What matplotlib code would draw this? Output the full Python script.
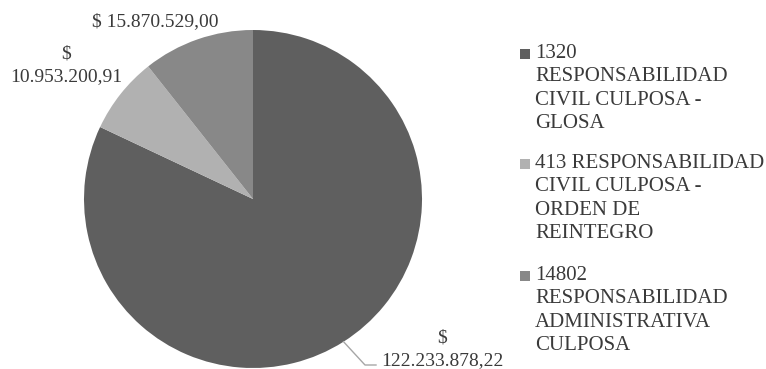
"""Pie chart of amounts by type of liability process."""
import matplotlib.pyplot as plt
import numpy as np
from matplotlib.patches import Rectangle

categories = [
    "1320\nRESPONSABILIDAD\nCIVIL CULPOSA -\nGLOSA",
    "413 RESPONSABILIDAD\nCIVIL CULPOSA -\nORDEN DE\nREINTEGRO",
    "14802\nRESPONSABILIDAD\nADMINISTRATIVA\nCULPOSA",
]
amounts = [122233878.22, 10953200.91, 15870529.00]
value_labels = ["$\n122.233.878,22", "$\n10.953.200,91", "$ 15.870.529,00"]
colors = ["#5f5f5f", "#b1b1b1", "#888888"]

W, H = 766, 369
TEXT_COLOR = "#3a3a3a"
LINE_PX = 23.3  # distance between text lines, pixels

fig = plt.figure(figsize=(W / 100, H / 100), dpi=100)

# pie centre and radius in pixels
cx, cy, r = 253, 199, 169
ax = fig.add_axes([(cx - r) / W, (H - cy - r) / H, 2 * r / W, 2 * r / H])
wedges, _ = ax.pie(
    amounts,
    colors=colors,
    startangle=90,
    counterclock=False,
    radius=1.0,
    wedgeprops=dict(linewidth=0),
)
ax.set_xlim(-1, 1)
ax.set_ylim(-1, 1)
ax.set_aspect("equal")
ax.axis("off")


def px(x, y):
    """Pixel position (top-left origin) to figure fraction."""
    return x / W, 1 - y / H


def stacked_text(x, first_baseline, text, ha, size):
    """Draw text one line at a time from the first line's baseline."""
    for i, line in enumerate(text.split("\n")):
        fig.text(*px(x, first_baseline + i * LINE_PX), line, ha=ha,
                 va="baseline", family="Liberation Serif", size=size,
                 color=TEXT_COLOR)


# value labels, baseline of first line in pixels
label_pos = [(442, 342), (66, 58), (155, 26)]
for text, (lx, ly) in zip(value_labels, label_pos):
    stacked_text(lx, ly, text, "center", 14)

# leader line for the large slice
w = wedges[0]
mid = np.deg2rad((w.theta1 + w.theta2) / 2)
x0, y0 = cx + r * np.cos(mid), cy - r * np.sin(mid)
fig.add_artist(plt.Line2D(
    [x0 / W, 365 / W, 376 / W],
    [1 - y0 / H, 1 - 365 / H, 1 - 365 / H],
    color="#a6a6a6", linewidth=1.0,
))

# legend drawn by hand so the swatch sits on the first line
entry_baselines = [58, 168, 280]
for color, text, base in zip(colors, categories, entry_baselines):
    fig.add_artist(Rectangle(px(520, base + 1), 10 / W, 10 / H,
                             transform=fig.transFigure, color=color,
                             linewidth=0))
    stacked_text(535, base, text, "left", 15)

fig.savefig("out.png", dpi=100)
